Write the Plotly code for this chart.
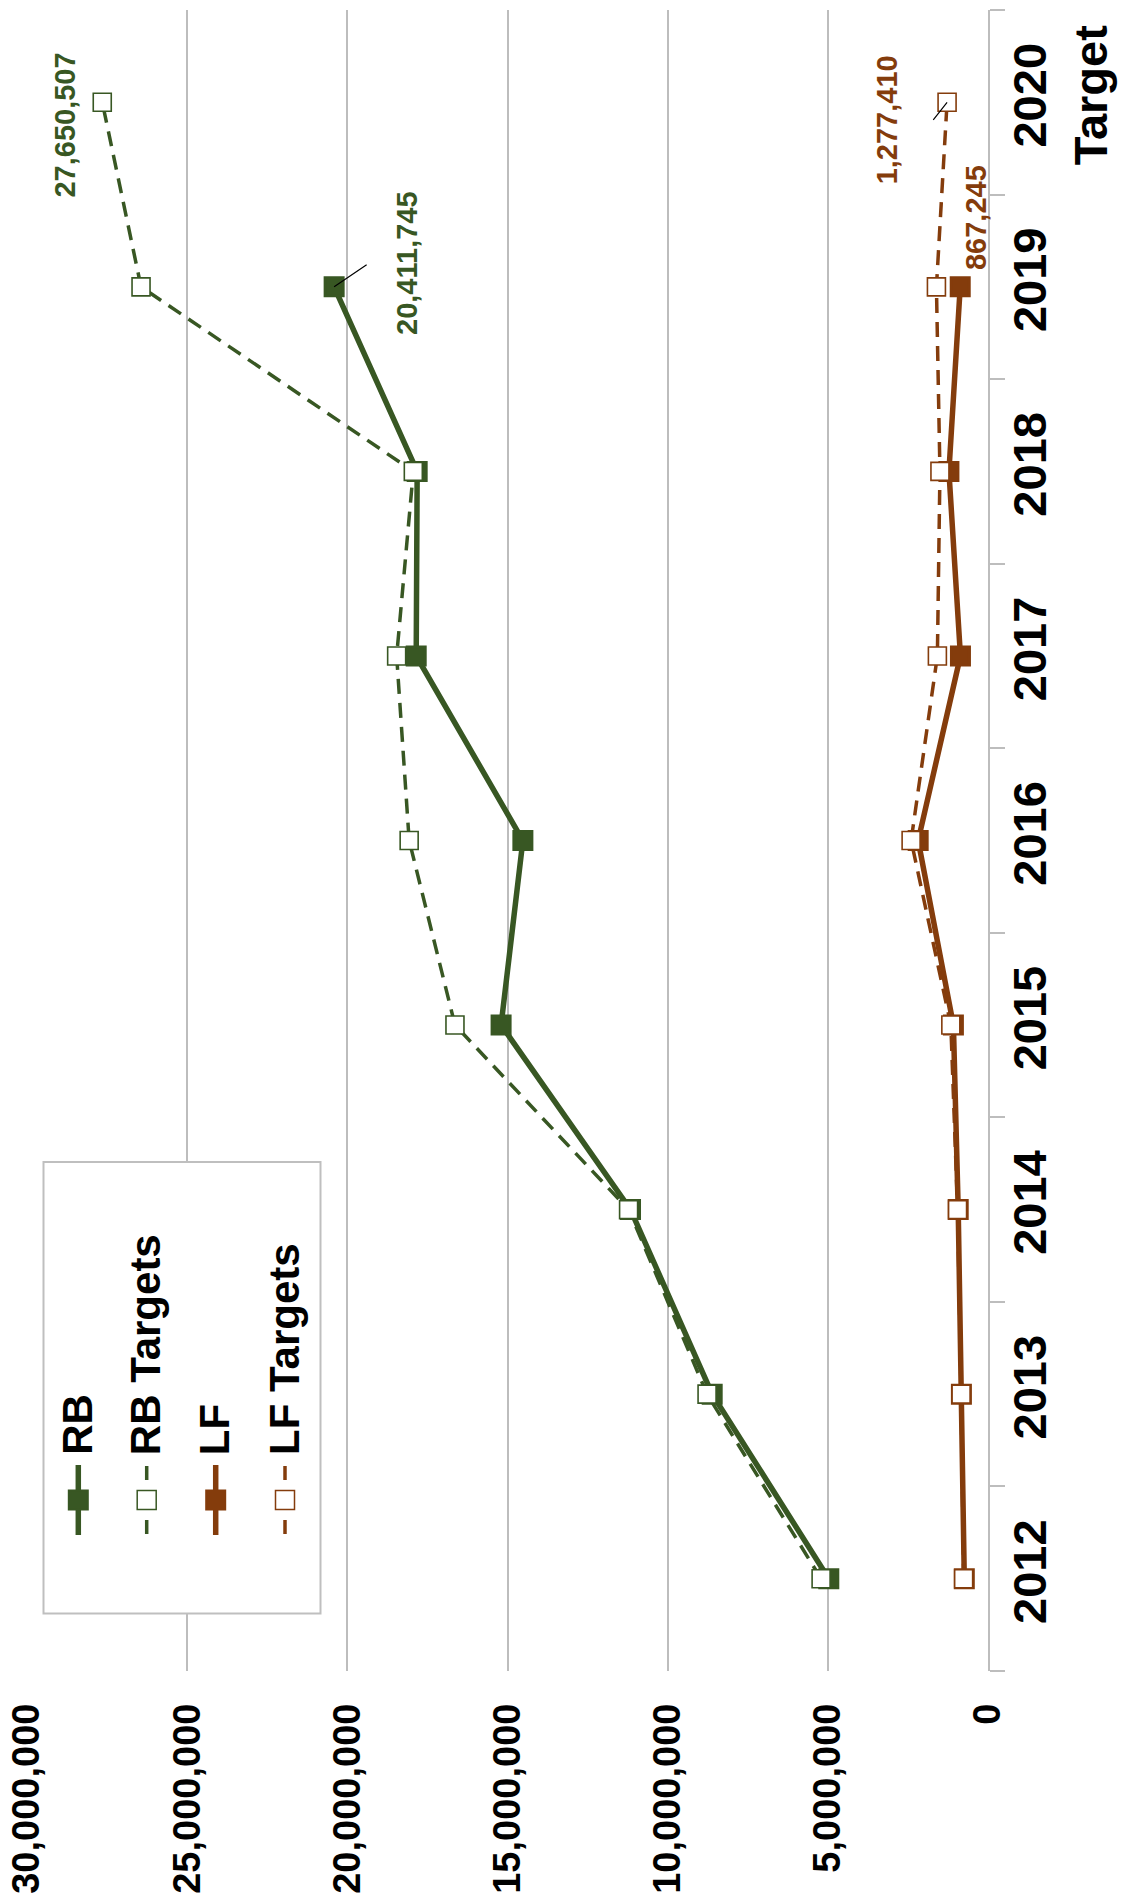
import plotly.graph_objects as go

# ---- data -------------------------------------------------------------
categories = ["2012", "2013", "2014", "2015", "2016", "2017", "2018", "2019", "2020<br>Target"]

rb = [4970000, 8610000, 11160000, 15200000, 14520000, 17850000, 17820000, 20411745, None]
rb_targets = [5210000, 8770000, 11220000, 16640000, 18070000, 18460000, 17940000, 26440000, 27650507]
lf = [740000, 830000, 930000, 1080000, 2180000, 860000, 1220000, 867245, None]
lf_targets = [760000, 840000, 950000, 1160000, 2400000, 1580000, 1500000, 1610000, 1277410]

value_ticks = [0, 5000000, 10000000, 15000000, 20000000, 25000000, 30000000]

GREEN = "#385723"
BROWN = "#843C0C"
GRID = "#BDBDBD"
FONT = "Liberation Sans"

# ---- page geometry ----------------------------------------------------
W, H = 1127, 1902
ML, MR, MT, MB = 27, 139, 10, 231
PW, PH = W - ML - MR, H - MT - MB


def px(x):
    return (x - ML) / PW


def py(y):
    return (H - MB - y) / PH


fig = go.Figure()


def add_series(vals, color, dashed, filled, name):
    fig.add_trace(go.Scatter(
        x=vals, y=categories, name=name, mode="lines+markers",
        line=dict(color=color, width=3.5 if dashed else 5.5,
                  dash="15px,9px" if dashed else "solid"),
        marker=dict(symbol="square", size=18,
                    color=color if filled else "white",
                    line=dict(color=color, width=3 if filled else 1.6)),
        connectgaps=False, showlegend=False, cliponaxis=False,
    ))


add_series(rb, GREEN, False, True, "RB")
add_series(rb_targets, GREEN, True, False, "RB Targets")
add_series(lf, BROWN, False, True, "LF")
add_series(lf_targets, BROWN, True, False, "LF Targets")

# ---- value labels (y given as category index) -------------------------
labels = [
    (rb_targets[8], 8, GREEN, -37, -23),
    (rb[7], 7, GREEN, 73, 24),
    (lf_targets[8], 8, BROWN, -60, -18),
    (lf[7], 7, BROWN, 16, 69),
]
for v, ci, col, dx, dy in labels:
    fig.add_annotation(x=v, y=ci, text=f"{v:,}", showarrow=False, textangle=-90,
                       xshift=dx, yshift=dy, xanchor="center", yanchor="middle",
                       font=dict(family=FONT, size=29, color=col, weight="bold"))

# leader lines
fig.add_annotation(x=rb[7], y=7, text="", showarrow=True, arrowhead=0,
                   arrowwidth=1.2, arrowcolor="black", ax=34, ay=-23, standoff=0)
fig.add_annotation(x=lf_targets[8], y=8, text="", showarrow=True, arrowhead=0,
                   arrowwidth=1.2, arrowcolor="black", ax=-15, ay=19, standoff=0)

# ---- legend (rotated, drawn by hand) ----------------------------------
fig.add_shape(type="rect", xref="paper", yref="paper",
              x0=px(43.5), x1=px(320.5), y0=py(1613.5), y1=py(1162),
              fillcolor="white", line=dict(color="#BFBFBF", width=2), layer="above")

legend_items = [
    ("RB", GREEN, False, True, 78.3),
    ("RB Targets", GREEN, True, False, 146.7),
    ("LF", BROWN, False, True, 215.7),
    ("LF Targets", BROWN, True, False, 285.0),
]
for name, col, dashed, filled, lx in legend_items:
    if dashed:
        for a, b in [(1466, 1480), (1520, 1534)]:
            fig.add_shape(type="line", xref="paper", yref="paper",
                          x0=px(lx), x1=px(lx), y0=py(a), y1=py(b),
                          line=dict(color=col, width=3.5), layer="above")
    else:
        fig.add_shape(type="line", xref="paper", yref="paper",
                      x0=px(lx), x1=px(lx), y0=py(1465), y1=py(1535),
                      line=dict(color=col, width=5.5), layer="above")
    half = 9.5
    fig.add_shape(type="rect", xref="paper", yref="paper",
                  x0=px(lx - half), x1=px(lx + half), y0=py(1500 + half), y1=py(1500 - half),
                  fillcolor=col if filled else "white",
                  line=dict(color=col, width=2 if filled else 1.5), layer="above")
    fig.add_annotation(xref="paper", yref="paper", x=px(lx - 1), y=py(1457),
                       text=name, showarrow=False, textangle=-90,
                       xanchor="center", yanchor="bottom",
                       font=dict(family=FONT, size=42, color="black", weight="bold"))

# ---- axes -------------------------------------------------------------
fig.update_xaxes(
    range=[30000000, 0], tickvals=value_ticks, tickformat=",d",
    tickangle=-90, showgrid=True, gridcolor=GRID, gridwidth=1.5,
    zeroline=False, showline=False, ticks="", ticklabelstandoff=24,
    tickfont=dict(family=FONT, size=38, color="black", weight="bold"),
)
fig.update_yaxes(
    type="category", categoryorder="array", categoryarray=categories,
    range=[-0.5, 8.5], side="right", tickangle=-90,
    showgrid=False, zeroline=False,
    showline=True, linecolor=GRID, linewidth=2,
    ticks="outside", tickson="boundaries", ticklen=15, tickcolor=GRID, tickwidth=1.5,
    tickfont=dict(family=FONT, size=47, color="black", weight="bold"),
)

fig.update_layout(
    width=W, height=H, margin=dict(l=ML, r=MR, t=MT, b=MB, autoexpand=False),
    paper_bgcolor="white", plot_bgcolor="white", showlegend=False,
)

fig.write_html("out.html")
